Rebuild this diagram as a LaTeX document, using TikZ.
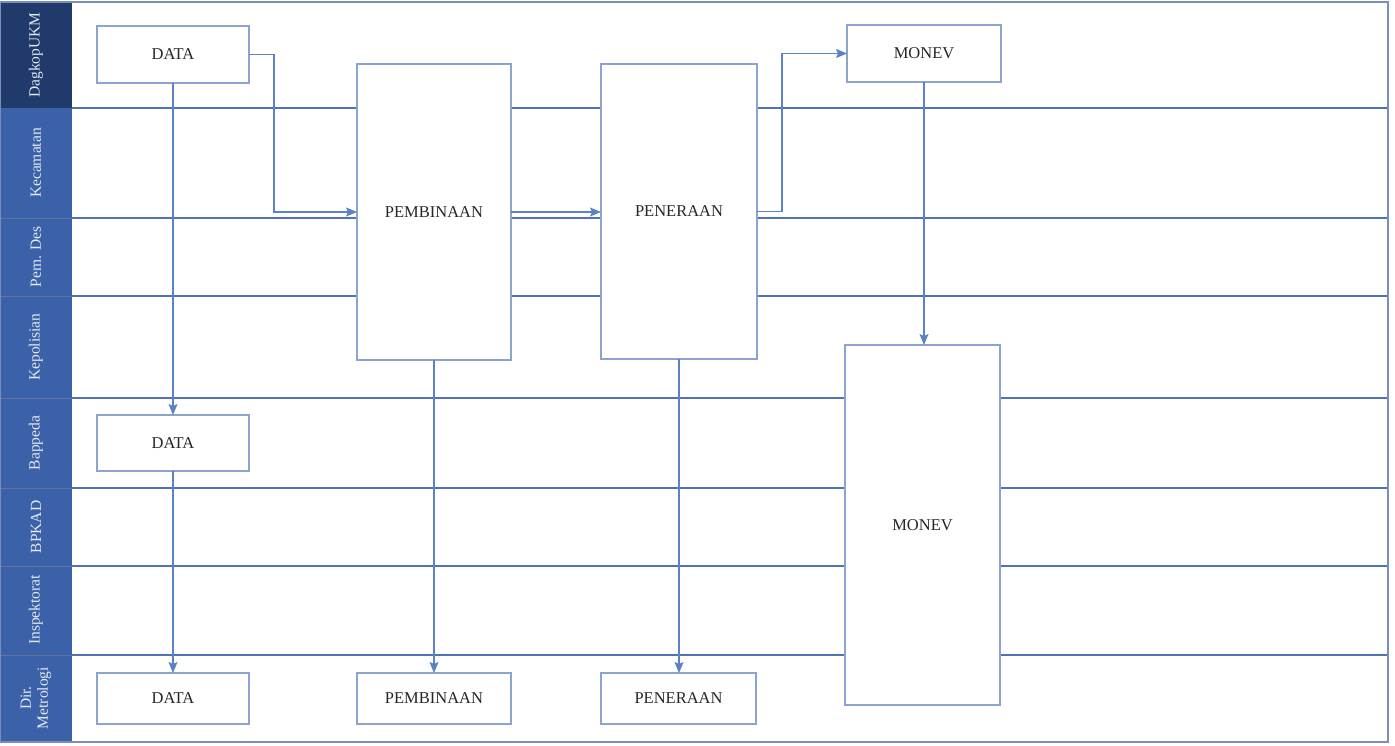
\documentclass[tikz,border=0pt]{standalone}
\usepackage{fontspec}
\setmainfont{Liberation Serif}
\usetikzlibrary{arrows.meta}
\definecolor{laneline}{HTML}{5073B6}
\definecolor{boxline}{HTML}{8CA3D0}
\definecolor{flow}{HTML}{5B82C4}
\definecolor{headdark}{HTML}{1F3A6B}
\definecolor{headmid}{HTML}{3B62A8}
\definecolor{headtext}{HTML}{E4E9F4}
\definecolor{frameline}{HTML}{7A8EB8}
\tikzset{
  procbox/.style={draw=boxline, line width=1.1pt, fill=white, inner sep=0pt, outer sep=0pt,
    font=\fontsize{16.5}{18}\selectfont, text=black!85},
  lanesep/.style={draw=laneline, line width=1.3pt},
  flowline/.style={draw=flow, line width=1.1pt, -{Stealth[length=11pt,width=9pt,inset=2pt]}},
  lanelabel/.style={rotate=90, text=headtext, font=\fontsize{15.5}{17}\selectfont, align=center, inner sep=0pt},
}
\begin{document}
\begin{tikzpicture}[x=1pt,y=-1pt]
\useasboundingbox (0,0) rectangle (1395,745);
\fill[white] (0,0) rectangle (1395,745);

% header column of the lanes
\fill[headdark] (0,2) rectangle (72,108);
\fill[headmid] (0,108) rectangle (72,742);
\foreach \yy in {218,296,398,488,566,655}
  \draw[headdark!70, line width=0.8pt] (0,\yy) -- (72,\yy);

\node[lanelabel] (l1) at (36,55) {DagkopUKM};
\node[lanelabel] (l2) at (36,163) {Kecamatan};
\node[lanelabel] (l3) at (36,257) {Pem. Des};
\node[lanelabel] (l4) at (36,347) {Kepolisian};
\node[lanelabel] (l5) at (36,443) {Bappeda};
\node[lanelabel] (l6) at (36,527) {BPKAD};
\node[lanelabel] (l7) at (36,610) {Inspektorat};
\node[lanelabel] (l8) at (36,698) {Dir.\\Metrologi};

% lane separators
\foreach \yy in {108,218,296,398,488,566,655}
  \draw[lanesep] (72,\yy) -- (1388,\yy);

% outer frame
\draw[frameline, line width=1.4pt] (0,2) rectangle (1388,742);

% process boxes
\node[procbox, minimum width=152pt, minimum height=57pt] (d1) at (173,54.5) {DATA};
\node[procbox, minimum width=154pt, minimum height=296pt] (pb1) at (434,212) {PEMBINAAN};
\node[procbox, minimum width=156pt, minimum height=295pt] (pn1) at (679,211.5) {PENERAAN};
\node[procbox, minimum width=154pt, minimum height=57pt] (m1) at (924,53.5) {MONEV};
\node[procbox, minimum width=155pt, minimum height=360pt] (m2) at (922.5,525) {MONEV};
\node[procbox, minimum width=152pt, minimum height=56pt] (d2) at (173,443) {DATA};
\node[procbox, minimum width=152pt, minimum height=51pt] (d3) at (173,698.5) {DATA};
\node[procbox, minimum width=154pt, minimum height=51pt] (pb2) at (434,698.5) {PEMBINAAN};
\node[procbox, minimum width=155pt, minimum height=51pt] (pn2) at (678.5,698.5) {PENERAAN};

% flows
\draw[flowline] (d1.south) -- (d2.north);
\draw[flowline] (d2.south) -- (d3.north);
\draw[flowline] (d1.east) -- ++(25,0) |- (pb1.west);
\draw[flowline] (pb1.east) -- (pb1.east -| pn1.west);
\draw[flowline] (pn1.east) -- ++(25,0) |- (m1.west);
\draw[flowline] (m1.south) -- (m1.south |- m2.north);
\draw[flowline] (pb1.south) -- (pb2.north);
\draw[flowline] (pn1.south) -- (pn1.south |- pn2.north);
\end{tikzpicture}
\end{document}
